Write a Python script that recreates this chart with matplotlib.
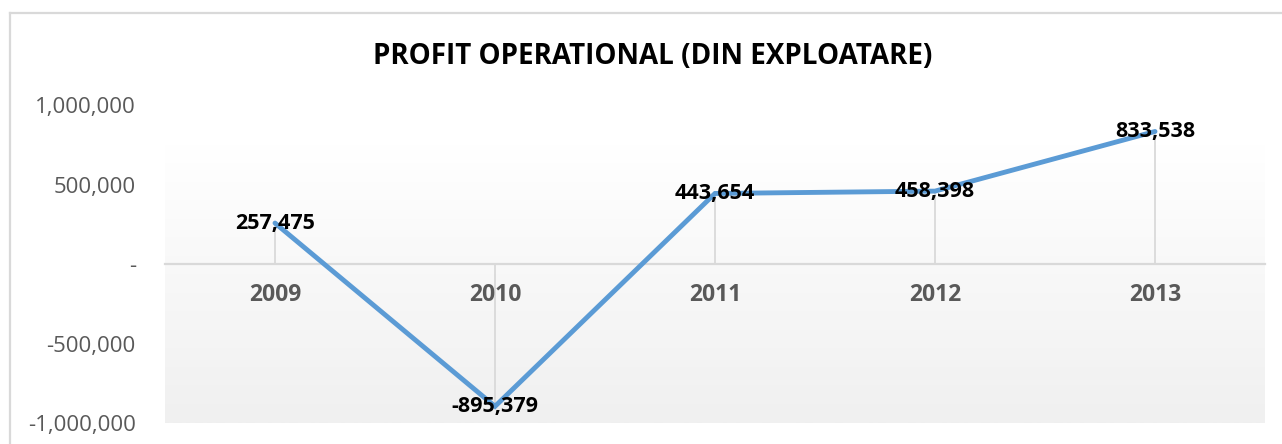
import matplotlib
matplotlib.use("Agg")
import matplotlib.pyplot as plt
from matplotlib.lines import Line2D
import numpy as np

years = ["2009", "2010", "2011", "2012", "2013"]
profit = [257475, -895379, 443654, 458398, 833538]
yticks = [-1000000, -500000, 0, 500000, 1000000]
title = "PROFIT OPERATIONAL (DIN EXPLOATARE)"

plt.rcParams['font.family'] = ['Open Sans', 'DejaVu Sans']

W, H = 1282, 444
fig = plt.figure(figsize=(W / 100, H / 100), dpi=100)
fig.patch.set_facecolor("white")

# outer chart border (left and top visible)
fig.add_artist(Line2D([10 / W, 10 / W], [0, 1 - 13 / H], transform=fig.transFigure,
                      color="#d9d9d9", lw=1.6))
fig.add_artist(Line2D([10 / W, 1], [1 - 13 / H, 1 - 13 / H], transform=fig.transFigure,
                      color="#d9d9d9", lw=1.6))

left, right = 165 / W, 1265 / W
bottom, top = 1 - 423 / H, 1 - 105 / H
ax = fig.add_axes([left, bottom, right - left, top - bottom])
ax.set_facecolor("none")

x = np.arange(len(years))
ax.set_xlim(-0.5, len(years) - 0.5)
ax.set_ylim(yticks[0], yticks[-1])

# gradient plot-area background
grad = np.linspace(1.0, 0.0, 256).reshape(-1, 1)
top_c = np.array([1.0, 1.0, 1.0])
bot_c = np.array([0xf0, 0xf0, 0xf0]) / 255
img = grad[..., None] * top_c + (1 - grad[..., None]) * bot_c
ax.imshow(img, extent=[-0.5, len(years) - 0.5 + 0.01, yticks[0], 750000],
          aspect="auto", zorder=0, interpolation="bilinear")

# drop lines
ax.vlines(x, 0, profit, color="#d9d9d9", lw=1.3, zorder=1)

# main line
ax.plot(x, profit, color="#5b9bd5", lw=3.5, zorder=3, solid_capstyle="round",
        solid_joinstyle="miter")

# data labels
for xi, v in zip(x, profit):
    ax.text(xi, v, f"{v:,}", ha="center", va="center", fontsize=15.5,
            fontweight="bold", color="black", zorder=4)

# axes styling
for s in ["left", "right", "top"]:
    ax.spines[s].set_visible(False)
ax.spines["bottom"].set_position(("data", 0))
ax.spines["bottom"].set_color("#d9d9d9")
ax.spines["bottom"].set_linewidth(1.6)
ax.spines["bottom"].set_zorder(2)

ax.set_xticks(x)
ax.set_xticklabels(years, fontsize=16.5, fontweight="bold", color="#595959")
ax.tick_params(axis="x", length=0, pad=14)

ax.set_yticks(yticks)
ax.set_yticklabels([f"{t:,}" if t != 0 else "-" for t in yticks],
                   fontsize=16, color="#595959")
ax.tick_params(axis="y", length=0, pad=21)

fig.text(653 / W, 1 - 56 / H, title, ha="center", va="center",
         fontsize=20, fontweight="bold", color="black")

fig.savefig("out.png", dpi=100)
